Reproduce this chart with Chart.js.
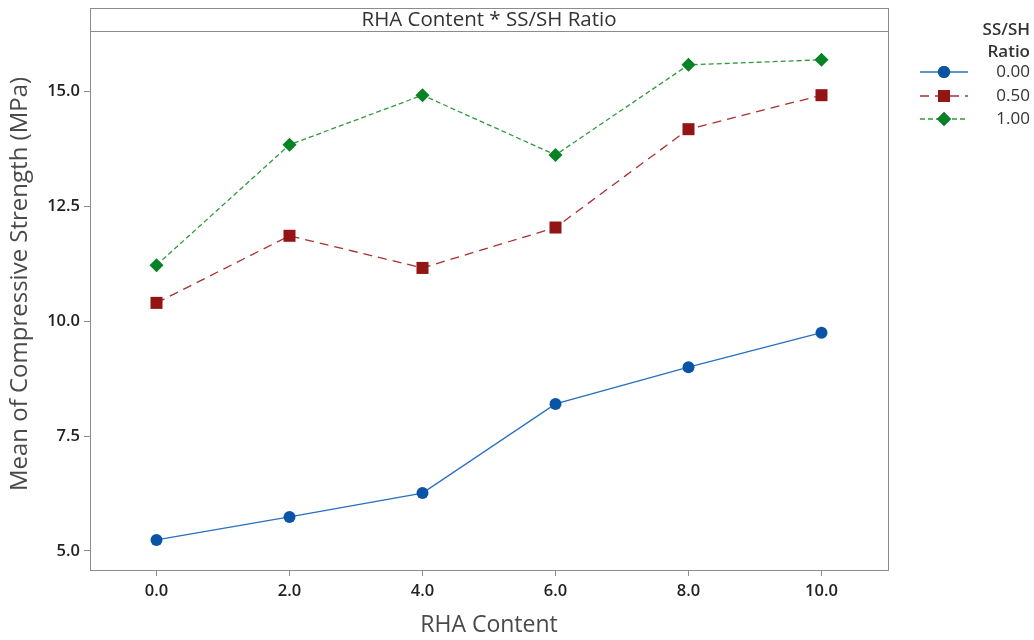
<!DOCTYPE html>
<html lang="en">
<head>
<meta charset="UTF-8">
<title>RHA Content * SS/SH Ratio</title>
<script src="https://cdn.jsdelivr.net/npm/chart.js"></script>
<style>
    body { margin: 0; padding: 0; background: #fff; }
    .wrap { position: relative; width: 1034px; height: 640px; }
</style>
</head>
<body>
<div class="wrap"><canvas id="plot" width="1034" height="640"></canvas></div>
<script>
// data
const rhaContent = [0, 2, 4, 6, 8, 10];
const ratioLabels = ['0.00', '0.50', '1.00'];
const ratio000 = [5.24, 5.74, 6.26, 8.20, 9.00, 9.75];
const ratio050 = [10.40, 11.86, 11.16, 12.04, 14.18, 14.92];
const ratio100 = [11.22, 13.84, 14.92, 13.62, 15.58, 15.69];
const xTicks = [0, 2, 4, 6, 8, 10];
const yTicks = [5, 7.5, 10, 12.5, 15];

const FONT = "'Open Sans', 'Noto Sans', sans-serif";
const frameColor = '#8c8c8c';

function pts(vals) {
    return vals.map((v, i) => ({ x: rhaContent[i], y: v }));
}

// frame, panel strip, axis titles and legend
const decor = {
    id: 'decor',
    beforeDraw(chart) {
        const ctx = chart.ctx;
        ctx.save();
        ctx.fillStyle = '#fff';
        ctx.fillRect(0, 0, chart.width, chart.height);
        ctx.restore();
    },
    afterDraw(chart) {
        const ctx = chart.ctx;
        const a = chart.chartArea;
        const stripTop = 8;
        ctx.save();
        ctx.strokeStyle = frameColor;
        ctx.lineWidth = 1;
        ctx.strokeRect(a.left + 0.5, stripTop + 0.5, a.right - a.left, a.bottom - stripTop);
        ctx.beginPath();
        ctx.moveTo(a.left, a.top + 0.5);
        ctx.lineTo(a.right, a.top + 0.5);
        ctx.stroke();

        ctx.fillStyle = '#333';
        ctx.textAlign = 'center';
        ctx.textBaseline = 'middle';
        ctx.font = '20.5px ' + FONT;
        ctx.fillText('RHA Content * SS/SH Ratio', (a.left + a.right) / 2, (stripTop + a.top) / 2 + 1);

        // axis titles
        ctx.fillStyle = '#4a4a4a';
        ctx.font = '23px ' + FONT;
        ctx.fillText('RHA Content', (a.left + a.right) / 2, 625);
        ctx.save();
        ctx.translate(20, 284);
        ctx.rotate(-Math.PI / 2);
        ctx.font = '24px ' + FONT;
        ctx.fillText('Mean of Compressive Strength (MPa)', 0, 0);
        ctx.restore();

        // legend
        ctx.fillStyle = '#333';
        ctx.font = '600 17px ' + FONT;
        ctx.textAlign = 'right';
        ctx.fillText('SS/SH', 1030, 30);
        ctx.fillText('Ratio', 1030, 52);
        ctx.font = '17px ' + FONT;
        const rowY = [72, 96, 119];
        chart.data.datasets.forEach((ds, i) => {
            const y = rowY[i];
            ctx.strokeStyle = ds.borderColor;
            ctx.lineWidth = ds.borderWidth;
            ctx.setLineDash(ds.borderDash || []);
            ctx.beginPath();
            ctx.moveTo(920, y);
            ctx.lineTo(968, y);
            ctx.stroke();
            ctx.setLineDash([]);
            Chart.helpers.drawPoint(ctx, {
                pointStyle: ds.pointStyle,
                radius: ds.pointRadius,
                rotation: 0,
                borderWidth: 0
            }, 944, y);
            ctx.fillStyle = ds.pointBackgroundColor;
            ctx.fill();
            ctx.fillStyle = '#333';
            ctx.fillText(ds.label, 1030, y);
        });
        ctx.restore();
    }
};

new Chart(document.getElementById('plot'), {
    type: 'line',
    data: {
        datasets: [
            {
                label: ratioLabels[0],
                data: pts(ratio000),
                borderColor: '#2a6fc0',
                borderWidth: 1.3,
                pointStyle: 'circle',
                pointRadius: 6,
                pointBackgroundColor: '#0a54a8',
                pointBorderWidth: 0
            },
            {
                label: ratioLabels[1],
                data: pts(ratio050),
                borderColor: '#a8302e',
                borderWidth: 1.3,
                borderDash: [9, 6],
                pointStyle: 'rect',
                pointRadius: 8.5,
                pointBackgroundColor: '#931414',
                pointBorderWidth: 0
            },
            {
                label: ratioLabels[2],
                data: pts(ratio100),
                borderColor: '#2f9a3c',
                borderWidth: 1.3,
                borderDash: [5, 3],
                pointStyle: 'rectRot',
                pointRadius: 7,
                pointBackgroundColor: '#078326',
                pointBorderWidth: 0
            }
        ]
    },
    options: {
        responsive: false,
        animation: false,
        layout: { padding: { top: 31, right: 146, left: 0, bottom: 0 } },
        plugins: {
            legend: { display: false },
            title: { display: false },
            tooltip: { enabled: false }
        },
        elements: { line: { tension: 0 } },
        scales: {
            x: {
                type: 'linear',
                min: -1,
                max: 11,
                afterBuildTicks: s => { s.ticks = xTicks.map(v => ({ value: v })); },
                afterFit: s => { s.height = 70; },
                ticks: {
                    callback: v => Number(v).toFixed(1),
                    font: { family: FONT, size: 16.5, weight: '600' },
                    color: '#222',
                    padding: 5,
                    maxRotation: 0,
                    autoSkip: false
                },
                grid: { drawOnChartArea: false, tickLength: 6, color: frameColor },
                border: { display: false }
            },
            y: {
                type: 'linear',
                min: 4.586,
                max: 16.317,
                afterBuildTicks: s => { s.ticks = yTicks.map(v => ({ value: v })); },
                afterFit: s => { s.width = 90; },
                ticks: {
                    callback: v => Number(v).toFixed(1),
                    font: { family: FONT, size: 16.5, weight: '600' },
                    color: '#222',
                    padding: 4,
                    autoSkip: false
                },
                grid: { drawOnChartArea: false, tickLength: 6, color: frameColor },
                border: { display: false }
            }
        }
    },
    plugins: [decor]
});
</script>
</body>
</html>
